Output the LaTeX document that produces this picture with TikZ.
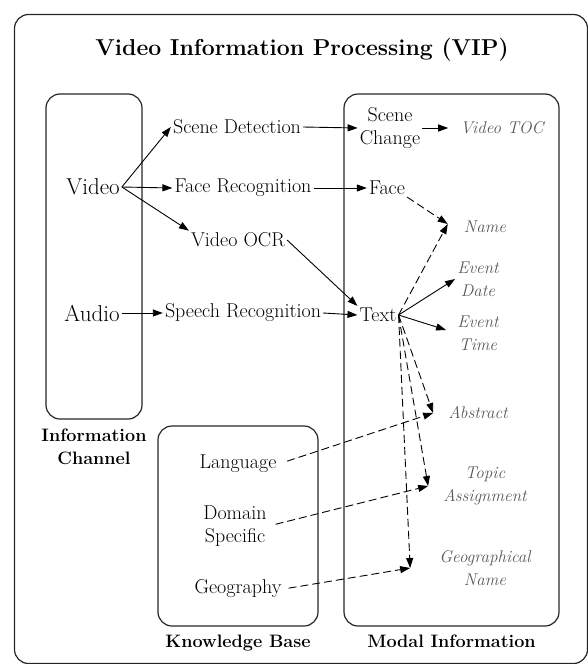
\documentclass[tikz,border=0pt]{standalone}
\usetikzlibrary{arrows.meta,positioning}
\begin{document}
\begin{tikzpicture}[x=1pt,y=-1pt]
	\tikzset{block/.style={align=center,inner sep=2pt,font=\fontsize{20}{23}\selectfont},
		modal/.style={block,text=black!65,font=\fontsize{17}{23}\selectfont\itshape},
		chan/.style={block,font=\fontsize{23}{26}\selectfont},
		caption/.style={block,font=\fontsize{18}{23}\selectfont\bfseries},
		frame/.style={draw=black!85,line width=1.2pt,rounded corners=14pt},
		>={Triangle[length=10pt,width=7pt]}}
	\useasboundingbox (0,0) rectangle (588,664);
	\draw [frame] (14.5,14.5) rectangle (587.5,663.5);
	\node [caption, font=\fontsize{23}{26}\selectfont\bfseries] (title) at (302,50) {Video Information Processing (VIP)};
	% boxes
	\node [frame, minimum width=96pt, minimum height=325pt] (chanbox) at (94,256.5) {};
	\node [frame, minimum width=160pt, minimum height=200pt] (kbbox) at (238,526) {};
	\node [frame, minimum width=215pt, minimum height=532pt] (modalbox) at (451.5,360) {};
	\node [caption, below=7pt of chanbox] (chancap) {Information\\Channel};
	\node [caption, below=6pt of kbbox] (kbcap) {Knowledge Base};
	\node [caption, below=6pt of modalbox] (modalcap) {Modal Information};
	% channels
	\node [chan] (video) at (93,187) {Video};
	\node [chan] (audio) at (92,313) {Audio};
	\node [block] (scdet) at (237,127) {Scene Detection};
	\node [block] (facerec) at (243,188) {Face Recognition};
	\node [block] (ocr) at (238,240) {Video OCR};
	\node [block] (speech) at (243,313) {Speech Recognition};
	% knowledge
	\node [block] (language) at (238,464) {Language};
	\node [block] (domain) at (235,526) {Domain\\Specific};
	\node [block] (geography) at (238,589) {Geography};
	% modal information
	\node [block] (scchange) at (390,128) {Scene\\Change};
	\node [block] (face) at (387,188) {Face};
	\node [block] (text) at (378,315) {Text};
	\node [modal] (vtoc) at (502,128) {Video TOC};
	\node [modal] (name) at (485,227) {Name};
	\node [modal] (evdate) at (478,279) {Event\\Date};
	\node [modal] (evtime) at (478,333) {Event\\Time};
	\node [modal] (abstract) at (478,413) {Abstract};
	\node [modal] (topic) at (485,486) {Topic\\Assignment};
	\node [modal] (geoname) at (485,568) {Geographical\\Name};
	\path[->,line width=0.9pt] (video.east) edge (scdet.west)
		(video.east) edge (facerec.west)
		(video.east) edge (ocr.north west)
		(audio.east) edge (speech.west)
		(scdet.east) edge (scchange.west)
		(facerec.east) edge (face.west)
		(ocr.east) edge (text.north west)
		(speech.east) edge (text.west)
		(scchange.east) edge ([xshift=-10pt]vtoc.west)
		(text.east) edge (evdate.west)
		(text.east) edge ([xshift=-9pt,yshift=3pt]evtime.west);
	\path[->,line width=0.9pt,dash pattern=on 8pt off 4pt] (face.south east) edge ([xshift=-14pt,yshift=3pt]name.west)
		(text.east) edge ([xshift=-14pt,yshift=3pt]name.west)
		(text.east) edge ([xshift=-13pt]abstract.west)
		(text.east) edge ([xshift=-13pt]topic.west)
		(text.east) edge ([xshift=-27pt]geoname.west)
		(language.east) edge[shorten <=9pt] ([xshift=-13pt]abstract.west)
		(domain.east) edge[shorten <=7pt] ([xshift=-13pt]topic.west)
		(geography.east) edge[shorten <=5pt] ([xshift=-27pt]geoname.west);
\end{tikzpicture}
\end{document}
